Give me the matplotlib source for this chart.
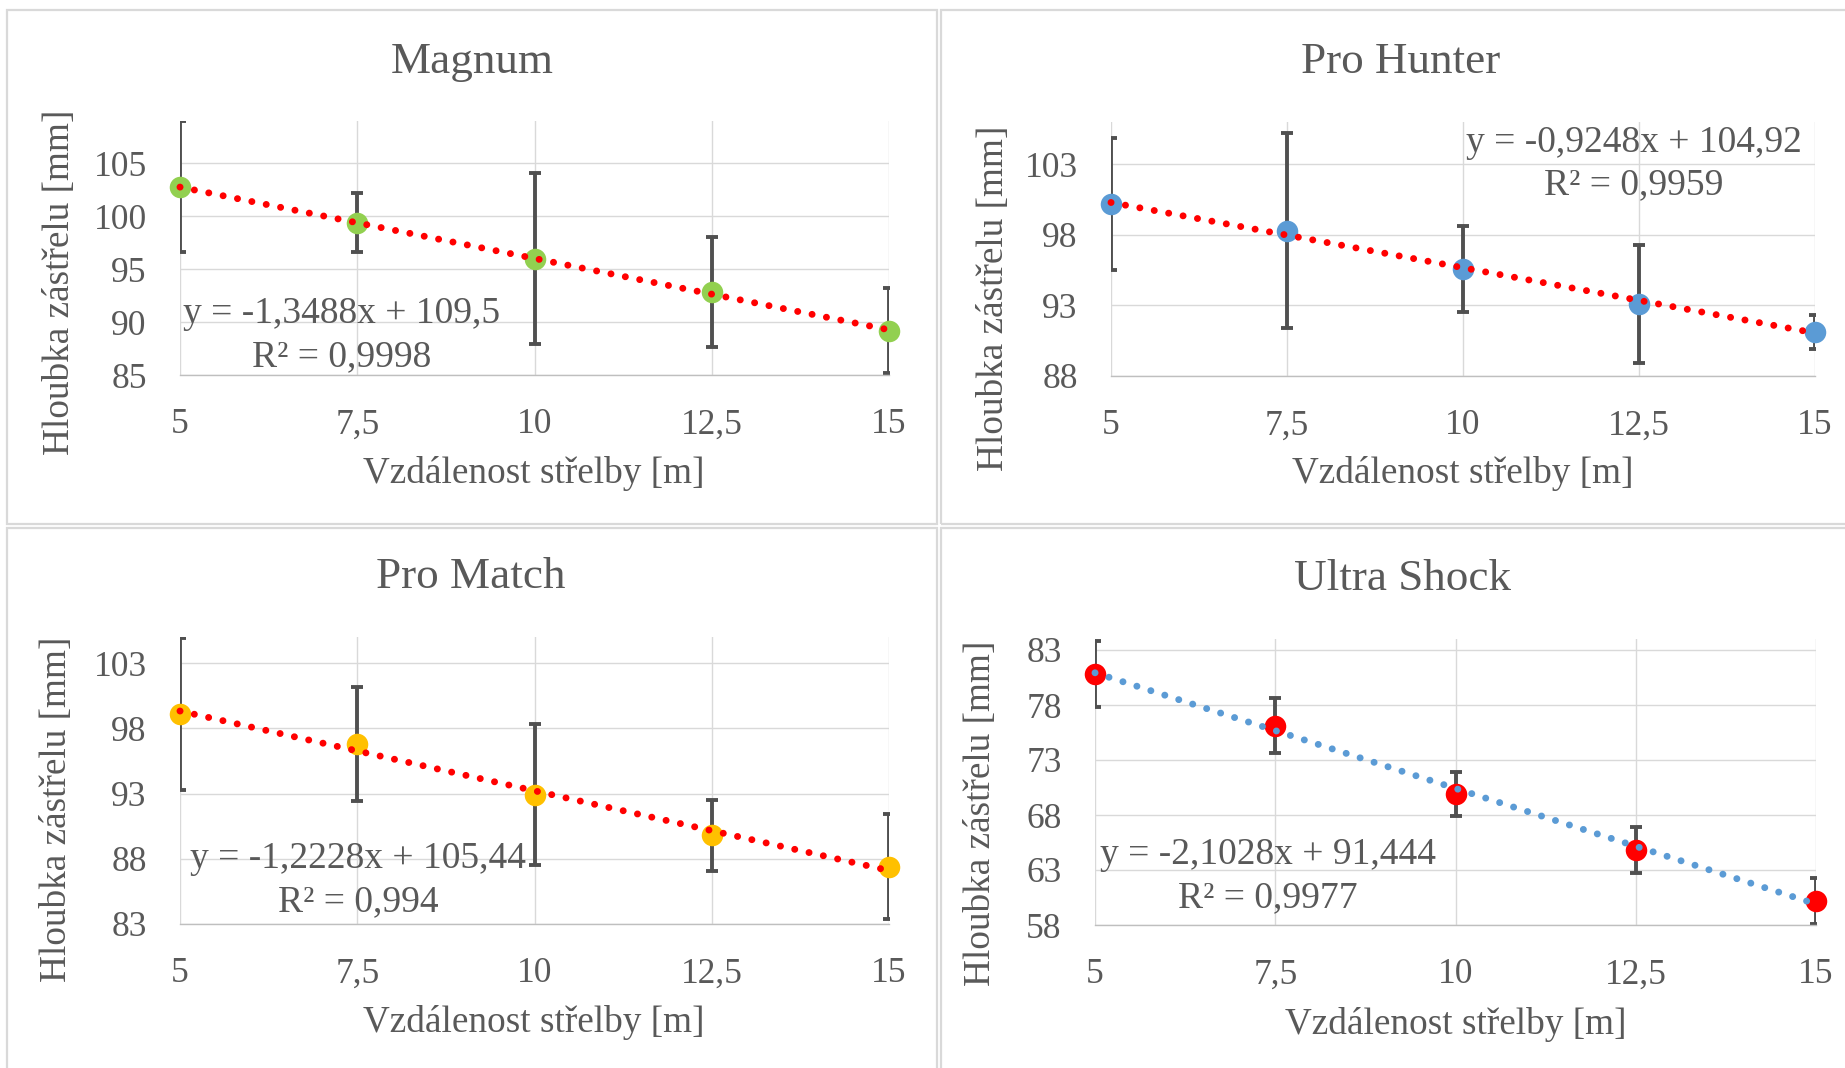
import matplotlib
matplotlib.use('Agg')
import matplotlib.pyplot as plt
from matplotlib.patches import Rectangle

# data
x = [5, 7.5, 10, 12.5, 15]
x_labels = ['5', '7,5', '10', '12,5', '15']

titles = ['Magnum', 'Pro Hunter', 'Pro Match', 'Ultra Shock']

magnum_y = [102.8, 99.4, 96.0, 92.8, 89.2]
magnum_err = [6.2, 2.75, 8.1, 5.2, 4.0]
prohunter_y = [100.2, 98.3, 95.6, 93.1, 91.1]
prohunter_err = [4.7, 6.9, 3.05, 4.2, 1.2]
promatch_y = [99.1, 96.8, 92.9, 89.8, 87.4]
promatch_err = [5.8, 4.35, 5.4, 2.7, 4.0]
ultra_y = [80.8, 76.1, 69.9, 64.8, 60.2]
ultra_err = [3.0, 2.5, 2.0, 2.1, 2.1]

# trend lines (slope, intercept) and texts as shown on chart
slopes = [-1.3488, -0.9248, -1.2228, -2.1028]
intercepts = [109.5, 104.92, 105.44, 91.444]
eq_texts = ['y = -1,3488x + 109,5', 'y = -0,9248x + 104,92',
            'y = -1,2228x + 105,44', 'y = -2,1028x + 91,444']
r2_texts = ['R² = 0,9998', 'R² = 0,9959', 'R² = 0,994', 'R² = 0,9977']

y_ticks = [[85, 90, 95, 100, 105], [88, 93, 98, 103],
           [83, 88, 93, 98, 103], [58, 63, 68, 73, 78, 83]]
y_lims = [(85, 109), (88, 106), (83, 105), (58, 84)]

marker_colors = ['#92d050', '#5b9bd5', '#ffc000', '#ff0000']
trend_colors = ['#ff0000', '#ff0000', '#ff0000', '#5b9bd5']

ys = [magnum_y, prohunter_y, promatch_y, ultra_y]
errs = [magnum_err, prohunter_err, promatch_err, ultra_err]

W, H = 1845, 1068
TXT = '#595959'
FONT = 'Liberation Serif'

def fx(p):
    return p / W

def fy(p):
    return 1 - p / H

fig = plt.figure(figsize=(W / 100, H / 100), dpi=100)
fig.patch.set_facecolor('white')

# panel borders
for (l, t, r, b) in [(7, 10, 937, 524), (941, 10, 1900, 524),
                     (7, 528, 937, 1100), (941, 528, 1900, 1100)]:
    fig.add_artist(Rectangle((fx(l), fy(b)), fx(r - l), (b - t) / H,
                             fill=False, edgecolor='#d9d9d9', linewidth=1.6,
                             transform=fig.transFigure))

# plot area boxes: left, right, top, bottom (pixels)
boxes = [(180, 889, 121, 375), (1111, 1815, 122, 376),
         (180, 889, 637, 924), (1095, 1816, 639, 925)]
title_pos = [(472, 73), (1401, 73), (471, 588), (1402, 590)]
xlabel_pos = [(534, 483), (1463, 483), (534, 1032), (1456, 1034)]
ylabel_pos = [(60, 282), (994, 298), (57, 809), (981, 813)]
eq_pos = [(342, 323, 366), (1634, 152, 194), (358, 868, 911), (1268, 864, 907)]

for i in range(4):
    l, r, t, b = boxes[i]
    ax = fig.add_axes([fx(l), fy(b), (r - l) / W, (b - t) / H])
    ax.set_xlim(5, 15)
    ax.set_ylim(*y_lims[i])
    ax.set_xticks(x)
    ax.set_xticklabels(x_labels)
    ax.set_yticks(y_ticks[i])
    ax.grid(True, color='#d9d9d9', linewidth=1.0, zorder=0)
    ax.set_axisbelow(True)
    for s in ['top', 'right', 'left']:
        ax.spines[s].set_visible(False)
    ax.spines['bottom'].set_color('#bfbfbf')
    ax.spines['bottom'].set_linewidth(1.0)
    ax.tick_params(length=0, labelsize=25.5, labelcolor=TXT)
    ax.tick_params(axis='x', pad=24)
    ax.tick_params(axis='y', pad=24)
    for lab in ax.get_xticklabels() + ax.get_yticklabels():
        lab.set_fontfamily(FONT)

    ax.errorbar(x, ys[i], yerr=errs[i], fmt='none', ecolor='#505050',
                elinewidth=2.8, capsize=4, capthick=2.8, zorder=2)
    ax.plot(x, ys[i], 'o', color=marker_colors[i], markersize=15.5,
            markeredgewidth=0, clip_on=False, zorder=3)
    tx = [x[0], x[-1]]
    ty = [slopes[i] * v + intercepts[i] for v in tx]
    ax.plot(tx, ty, color=trend_colors[i], linewidth=5,
            linestyle=(0, (0.01, 2.1)), dash_capstyle='round', zorder=4,
            clip_on=False)

    fig.text(fx(title_pos[i][0]), fy(title_pos[i][1]), titles[i],
             ha='center', va='baseline', fontsize=32.5, color=TXT, family=FONT)
    fig.text(fx(xlabel_pos[i][0]), fy(xlabel_pos[i][1]),
             'Vzdálenost střelby [m]', ha='center', va='baseline',
             fontsize=26.8, color=TXT, family=FONT)
    fig.text(fx(ylabel_pos[i][0]), fy(ylabel_pos[i][1]),
             'Hloubka zástřelu [mm]', ha='center', va='center', rotation=90,
             fontsize=26.8, color=TXT, family=FONT)
    ex, ey1, ey2 = eq_pos[i]
    fig.text(fx(ex), fy(ey1), eq_texts[i], ha='center', va='baseline',
             fontsize=27, color=TXT, family=FONT, zorder=5)
    fig.text(fx(ex), fy(ey2), r2_texts[i], ha='center', va='baseline',
             fontsize=27, color=TXT, family=FONT, zorder=5)

fig.savefig('out.png', dpi=100)
